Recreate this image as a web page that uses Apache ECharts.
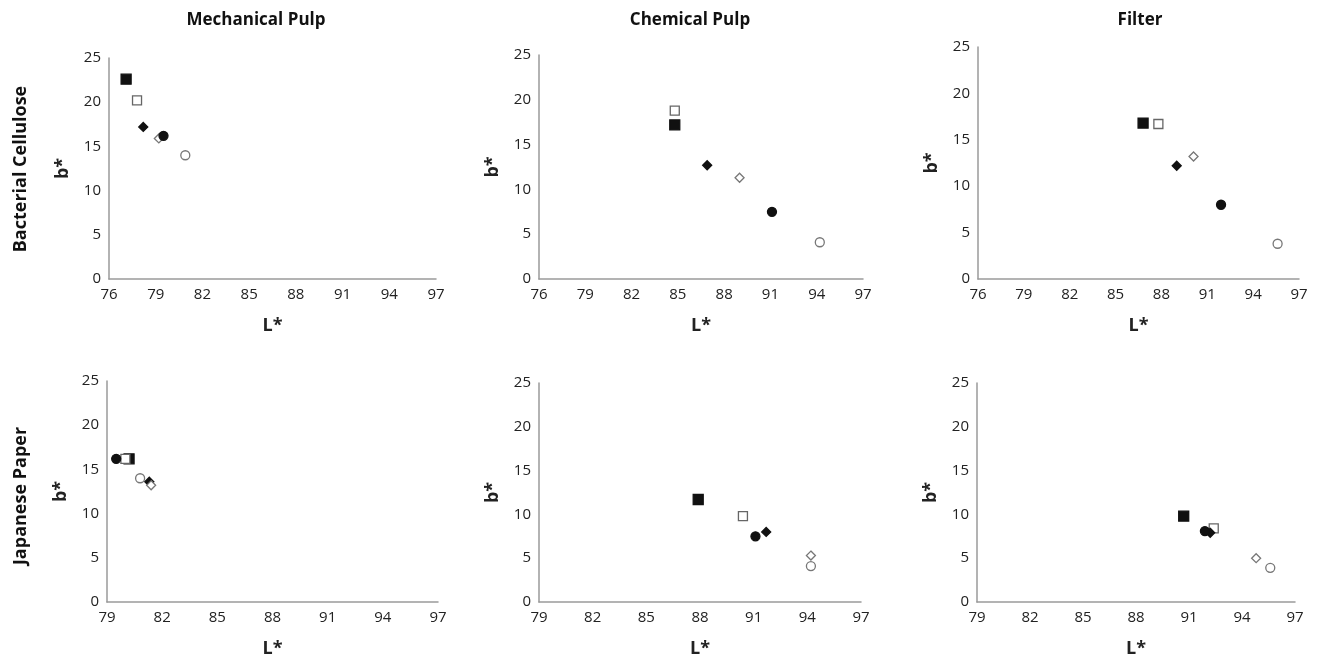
<!DOCTYPE html>
<html>
<head>
<meta charset="utf-8">
<title>L* vs b*</title>
<script src="https://cdn.jsdelivr.net/npm/echarts@6.0.0/dist/echarts.min.js"></script>
<style>
  html, body { margin: 0; padding: 0; background: #fff; }
  #main { width: 1317px; height: 659px; }
</style>
</head>
<body>
<div id="main"></div>
<script>
// marker order in every panel: filled square, open square, filled diamond, open diamond, filled circle, open circle
var markerNames = ['filledSquare', 'openSquare', 'filledDiamond', 'openDiamond', 'filledCircle', 'openCircle'];

// [L*, b*] per marker
var mechBacterial  = [[77.1, 22.6], [77.8, 20.2], [78.2, 17.2], [79.2, 15.9], [79.5, 16.2], [80.9, 14.0]];
var chemBacterial  = [[84.8, 17.2], [84.8, 18.8], [86.9, 12.7], [89.0, 11.3], [91.1, 7.5], [94.2, 4.1]];
var filterBacterial = [[86.8, 16.8], [87.8, 16.7], [89.0, 12.2], [90.1, 13.2], [91.9, 8.0], [95.6, 3.8]];
var mechJapanese   = [[80.2, 16.2], [80.0, 16.2], [81.3, 13.6], [81.4, 13.2], [79.5, 16.2], [80.8, 14.0]];
var chemJapanese   = [[87.9, 11.7], [90.4, 9.8], [91.7, 8.0], [94.2, 5.3], [91.1, 7.5], [94.2, 4.1]];
var filterJapanese = [[90.7, 9.8], [92.4, 8.4], [92.2, 7.9], [94.8, 5.0], [91.9, 8.1], [95.6, 3.9]];

var xTicksTop    = [76, 79, 82, 85, 88, 91, 94, 97];
var xTicksBottom = [79, 82, 85, 88, 91, 94, 97];
var yTicks       = [0, 5, 10, 15, 20, 25];

var columnTitles = ['Mechanical Pulp', 'Chemical Pulp', 'Filter'];
var rowTitles    = ['Bacterial Cellulose', 'Japanese Paper'];

var panels = [mechBacterial, chemBacterial, filterBacterial, mechJapanese, chemJapanese, filterJapanese];

// plot boxes
var boxes = [
  { left: 109, top: 58,  width: 327, height: 221 },
  { left: 539, top: 55,  width: 324, height: 224 },
  { left: 978, top: 47,  width: 321, height: 232 },
  { left: 107, top: 381, width: 331, height: 221 },
  { left: 539, top: 383, width: 322, height: 220 },
  { left: 977, top: 383, width: 318, height: 219 }
];

var markerStyle = {
  filledSquare:  { symbol: 'rect',    size: 10, fill: '#111', stroke: '#111' },
  openSquare:    { symbol: 'rect',    size: 9,  fill: '#fff', stroke: '#666' },
  filledDiamond: { symbol: 'diamond', size: 9,  fill: '#111', stroke: '#111' },
  openDiamond:   { symbol: 'diamond', size: 9,  fill: '#fff', stroke: '#777' },
  filledCircle:  { symbol: 'circle',  size: 9,  fill: '#111', stroke: '#111' },
  openCircle:    { symbol: 'circle',  size: 9,  fill: '#fff', stroke: '#777' }
};

var font = '"Open Sans", "Noto Sans", sans-serif';
var chart = echarts.init(document.getElementById('main'));

var grids = [], xAxes = [], yAxes = [], series = [];
panels.forEach(function (pts, p) {
  grids.push(Object.assign({ containLabel: false }, boxes[p]));
  var ticks = p < 3 ? xTicksTop : xTicksBottom;
  xAxes.push({
    type: 'value', gridIndex: p,
    min: ticks[0], max: ticks[ticks.length - 1],
    name: 'L*', nameLocation: 'middle', nameGap: 38,
    nameTextStyle: { fontFamily: font, fontWeight: 'bold', fontSize: 18, color: '#222' },
    axisLine: { show: true, onZero: false, lineStyle: { color: '#9a9a9a', width: 1.5 } },
    axisTick: { show: false },
    splitLine: { show: false },
    axisLabel: { customValues: ticks, margin: 8, fontFamily: font, fontSize: 15, color: '#222' }
  });
  yAxes.push({
    type: 'value', gridIndex: p,
    min: 0, max: 25, interval: 5,
    name: 'b*', nameLocation: 'middle', nameGap: 37, nameRotate: 90,
    nameTextStyle: { fontFamily: font, fontWeight: 'bold', fontSize: 18, color: '#222' },
    axisLine: { show: true, onZero: false, lineStyle: { color: '#9a9a9a', width: 1.5 } },
    axisTick: { show: false },
    splitLine: { show: false },
    axisLabel: { customValues: yTicks, margin: 8, fontFamily: font, fontSize: 15, color: '#222' }
  });
  pts.forEach(function (pt, m) {
    var st = markerStyle[markerNames[m]];
    series.push({
      type: 'scatter', name: markerNames[m],
      xAxisIndex: p, yAxisIndex: p,
      symbol: st.symbol, symbolSize: st.size,
      itemStyle: { color: st.fill, borderColor: st.stroke, borderWidth: 1.3, opacity: 1 },
      data: [pt],
      silent: true
    });
  });
});

var colCenters = [256, 690, 1140];
var rowCenters = [169, 496];
var graphics = [];
columnTitles.forEach(function (t, i) {
  graphics.push({
    type: 'text', x: colCenters[i], y: 20,
    style: { text: t, fontFamily: font, fontWeight: 'bold', fontSize: 17, fill: '#111',
             align: 'center', verticalAlign: 'middle' }
  });
});
rowTitles.forEach(function (t, i) {
  graphics.push({
    type: 'text', x: 21, y: rowCenters[i], rotation: Math.PI / 2,
    style: { text: t, fontFamily: font, fontWeight: 'bold', fontSize: 18, fill: '#111',
             align: 'center', verticalAlign: 'middle' }
  });
});

chart.setOption({
  backgroundColor: '#fff',
  animation: false,
  grid: grids,
  xAxis: xAxes,
  yAxis: yAxes,
  series: series,
  graphic: graphics
});
</script>
</body>
</html>
